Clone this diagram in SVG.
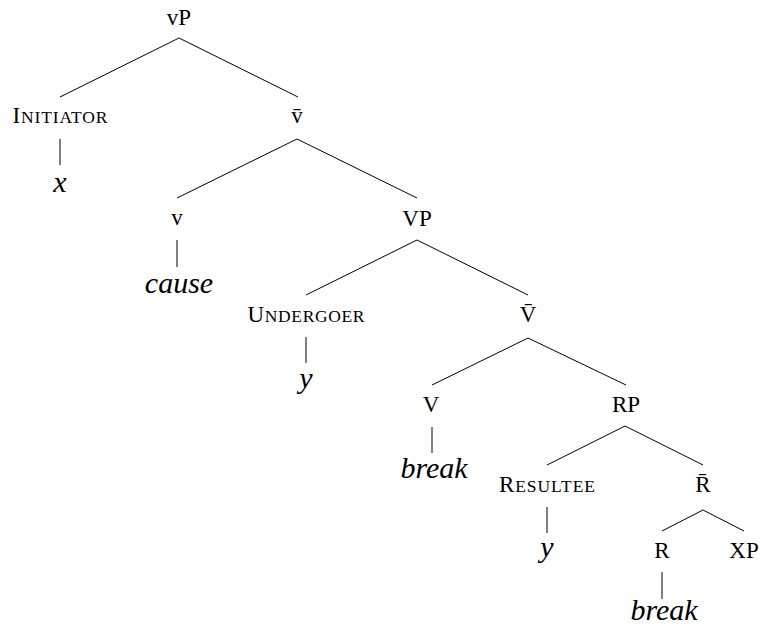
<svg xmlns="http://www.w3.org/2000/svg" width="761" height="630" viewBox="0 0 761 630">
<style>
text{font-family:"Liberation Serif","DejaVu Serif",serif;fill:#000;text-anchor:middle}
.lab{font-size:23px}
.sc{font-size:17.5px}
.leaf{font-size:30px;font-style:italic}
.edge{stroke:#000;stroke-width:1;fill:none}
</style>
<rect width="761" height="630" fill="#fff"/>
<g id="connectors">
<path class="edge" d="M179,38 L60,97 M179,38 L298,97"/>
<path class="edge" d="M60,139 L60,165"/>
<path class="edge" d="M297,139 L177,198 M297,139 L417,198"/>
<path class="edge" d="M177,240 L177,267"/>
<path class="edge" d="M417,240 L306,295 M417,240 L528,295"/>
<path class="edge" d="M306,337 L306,363"/>
<path class="edge" d="M528,338 L432,385 M528,338 L626,385"/>
<path class="edge" d="M432,427 L432,453"/>
<path class="edge" d="M625,426 L547,465 M625,426 L703,465"/>
<path class="edge" d="M547,507 L547,533"/>
<path class="edge" d="M703,510 L662,531 M703,510 L744,531"/>
<path class="edge" d="M662,572 L662,599"/>
</g>
<g id="n-vP"><text class="lab" x="179" y="25">vP</text></g>
<g id="n-initiator"><text class="lab" x="60" y="123" textLength="95" lengthAdjust="spacing">I<tspan class="sc">NITIATOR</tspan></text></g>
<g id="n-x"><text class="leaf" x="60" y="192">x</text></g>
<g id="n-vbar"><text class="lab" x="297" y="123">v̄</text></g>
<g id="n-v"><text class="lab" x="177" y="225">v</text></g>
<g id="n-cause"><text class="leaf" x="179" y="293">cause</text></g>
<g id="n-VP"><text class="lab" x="417" y="226">VP</text></g>
<g id="n-undergoer"><text class="lab" x="306" y="322" textLength="117" lengthAdjust="spacing">U<tspan class="sc">NDERGOER</tspan></text></g>
<g id="n-y1"><text class="leaf" x="306" y="388">y</text></g>
<g id="n-Vbar"><text class="lab" x="528" y="322">V̄</text></g>
<g id="n-V"><text class="lab" x="431" y="412">V</text></g>
<g id="n-break1"><text class="leaf" x="434" y="478">break</text></g>
<g id="n-RP"><text class="lab" x="626" y="412">RP</text></g>
<g id="n-resultee"><text class="lab" x="547" y="492" textLength="96" lengthAdjust="spacing">R<tspan class="sc">ESULTEE</tspan></text></g>
<g id="n-y2"><text class="leaf" x="547" y="557">y</text></g>
<g id="n-Rbar"><text class="lab" x="703" y="492">R̄</text></g>
<g id="n-R"><text class="lab" x="662" y="558">R</text></g>
<g id="n-XP"><text class="lab" x="744" y="558">XP</text></g>
<g id="n-break2"><text class="leaf" x="664" y="620">break</text></g>
</svg>
